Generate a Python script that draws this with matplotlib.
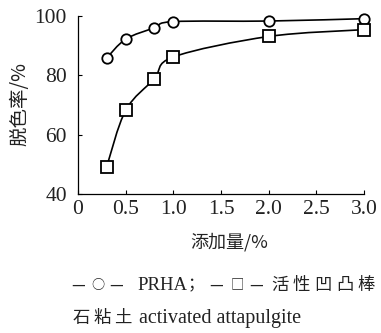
import matplotlib
matplotlib.use("Agg")
import matplotlib.pyplot as plt
from matplotlib.path import Path
from matplotlib.patches import PathPatch
import numpy as np

x = [0.3, 0.5, 0.8, 1.0, 2.0, 3.0]
prha = [85.8, 92.2, 96.0, 98.1, 98.3, 99.1]
attap = [49.1, 68.2, 78.8, 86.2, 93.1, 95.4]
xticks = [0, 0.5, 1.0, 1.5, 2.0, 2.5, 3.0]
xticklabels = ["0", "0.5", "1.0", "1.5", "2.0", "2.5", "3.0"]
yticks = [40, 60, 80, 100]

serif = ["Liberation Serif", "DejaVu Serif"]
cjk = ["Noto Sans CJK SC", "Liberation Serif"]
W, H = 381, 333
TXT = "#222222"

fig = plt.figure(figsize=(W/100, H/100), dpi=100)
ax = fig.add_axes([78/W, 1-194/H, (364-78)/W, (194-16)/H])

def smooth(ax, xs, ys):
    xs = np.asarray(xs, float); ys = np.asarray(ys, float)
    verts = [(xs[0], ys[0])]
    codes = [Path.MOVETO]
    n = len(xs)
    for i in range(n-1):
        p0 = np.array([xs[max(i-1, 0)], ys[max(i-1, 0)]])
        p1 = np.array([xs[i], ys[i]])
        p2 = np.array([xs[i+1], ys[i+1]])
        p3 = np.array([xs[min(i+2, n-1)], ys[min(i+2, n-1)]])
        c1 = p1 + (p2 - p0) / 6.0
        c2 = p2 - (p3 - p1) / 6.0
        verts += [tuple(c1), tuple(c2), tuple(p2)]
        codes += [Path.CURVE4] * 3
    ax.add_patch(PathPatch(Path(verts, codes), fill=False, lw=1.2, color="black", zorder=2))

smooth(ax, x, prha)
smooth(ax, x, attap)
ax.plot(x, prha, ls="none", marker="o", ms=7.5, mfc="white", mec="black", mew=1.3, zorder=3, clip_on=False)
ax.plot(x, attap, ls="none", marker="s", ms=8, mfc="white", mec="black", mew=1.3, zorder=3, clip_on=False)

ax.set_xlim(0, 3.0)
ax.set_ylim(40, 100)
ax.set_xticks(xticks)
ax.set_xticklabels(xticklabels)
ax.set_yticks(yticks)
for s in ["top", "right"]:
    ax.spines[s].set_visible(False)
for s in ["left", "bottom"]:
    ax.spines[s].set_linewidth(0.9)
ax.tick_params(direction="in", length=3, width=0.8, labelsize=15.5, colors="black")
ax.tick_params(axis="y", pad=8)
ax.tick_params(axis="x", pad=4)
for lab in ax.get_xticklabels() + ax.get_yticklabels():
    lab.set_family(serif)
    lab.set_color(TXT)

def ftext(px, py, s, **kw):
    kw.setdefault("va", "center")
    kw.setdefault("color", TXT)
    fig.text(px/W, 1-py/H, s, **kw)

ftext(20, 104, "脱色率/%", rotation=90, ha="center", fontsize=14, family=cjk)
ftext(229, 242, "添加量/%", ha="center", fontsize=13, family=cjk)

# legend line 1
y1 = 285
ftext(78.5, y1, "—", ha="center", fontsize=11, family=cjk)
ftext(98, y1, "○", ha="center", fontsize=9.5, family=cjk)
ftext(116.5, y1, "—", ha="center", fontsize=11, family=cjk)
ftext(137, y1, "PRHA", ha="left", fontsize=13.5, family=serif)
ftext(188, y1, "；", ha="left", fontsize=12, family=cjk)
ftext(216, y1, "—", ha="center", fontsize=11, family=cjk)
ftext(237, y1, "□", ha="center", fontsize=9.5, family=cjk)
ftext(256, y1, "—", ha="center", fontsize=11, family=cjk)
for i, ch in enumerate("活性凹凸棒"):
    ftext(280 + i*21.6, y1, ch, ha="center", fontsize=12.5, family=cjk)

# legend line 2
y2 = 318
for i, ch in enumerate("石粘土"):
    ftext(81 + i*21, y2, ch, ha="center", fontsize=12.5, family=cjk)
ftext(139, y2, "activated attapulgite", ha="left", fontsize=14.5, family=serif)

fig.savefig("out.png", dpi=100)
